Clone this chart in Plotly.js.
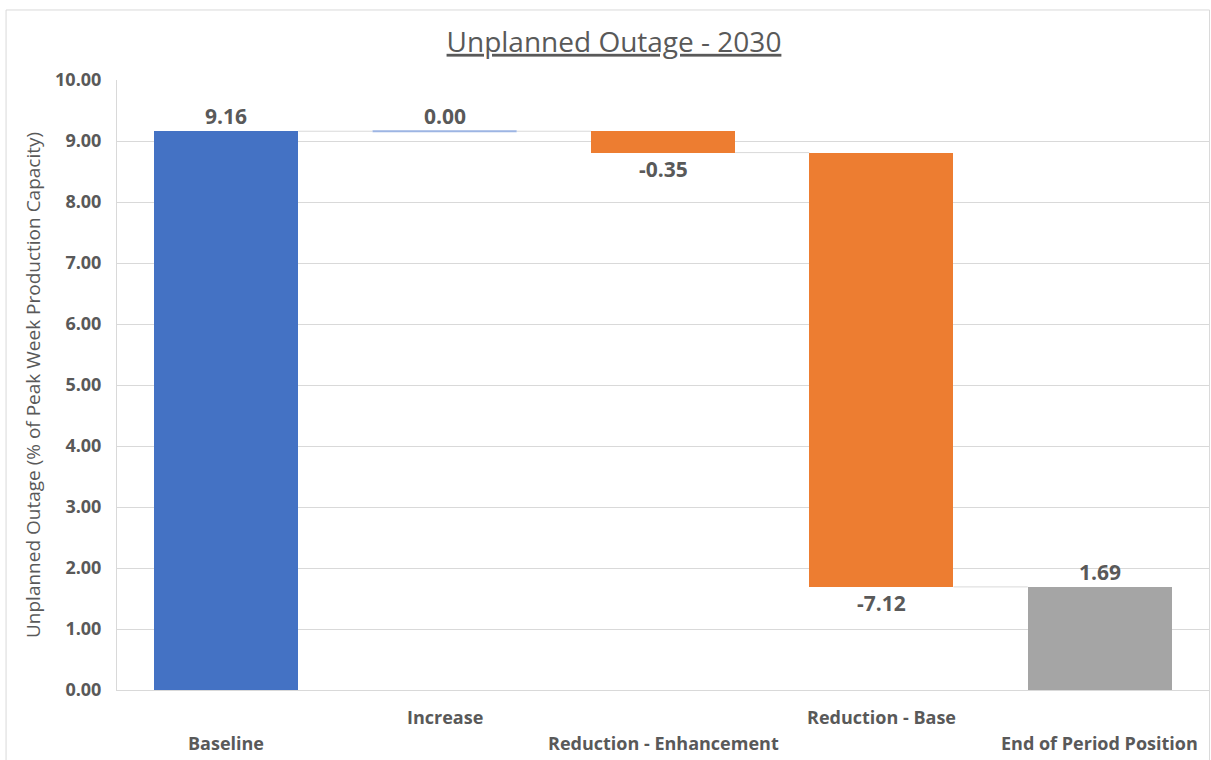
<!DOCTYPE html>
<html><head><meta charset="utf-8">
<script src="https://cdn.plot.ly/plotly-3.0.1.min.js"></script>
<style>html,body{margin:0;padding:0;background:#fff;}#chart{width:1211px;height:760px;}</style>
</head><body><div id="chart"></div>
<script>
const categories = ["Baseline", "Increase", "Reduction - Enhancement", "Reduction - Base", "End of Period Position"];
const values = [9.16, 0.00, -0.35, -7.12, 1.69];
const measures = ["absolute", "relative", "relative", "relative", "total"];
const valueLabels = ["9.16", "0.00", "-0.35", "-7.12", "1.69"];
const yTickVals = [0, 1, 2, 3, 4, 5, 6, 7, 8, 9, 10];
const yTickText = ["0.00", "1.00", "2.00", "3.00", "4.00", "5.00", "6.00", "7.00", "8.00", "9.00", "10.00"];
const labelRow = [1, 0, 1, 0, 1]; // 0 = upper row, 1 = lower row (staggered labels)

const BLUE = "#4472C4", ORANGE = "#ED7D31", GRAY = "#A5A5A5", LIGHTBLUE = "#9DB5E3";
const GRID = "#D9D9D9", TXT = "#595959", FONT = "'Open Sans', Lato, sans-serif";
const BW = 0.66;

let running = 0;
const bases = [], heights = [], colors = [], levels = [];
for (let i = 0; i < values.length; i++) {
  const v = values[i], m = measures[i];
  if (m === "absolute") { bases.push(0); heights.push(v); running = v; colors.push(BLUE); }
  else if (m === "relative") { bases.push(running); heights.push(v); running += v; colors.push(v < 0 ? ORANGE : BLUE); }
  else { bases.push(0); heights.push(v); running = v; colors.push(GRAY); }
  levels.push(running);
}

const xIdx = categories.map((c, i) => i);
const trace = {
  type: "bar", x: xIdx, y: heights, base: bases, width: BW,
  marker: { color: colors, line: { width: 0 } },
  hoverinfo: "skip", showlegend: false
};

const shapes = [];
// connectors
for (let i = 0; i < values.length - 1; i++) {
  shapes.push({ type: "line", xref: "x", yref: "y", x0: i + BW / 2, x1: i + 1 - BW / 2,
    y0: levels[i], y1: levels[i], line: { color: GRID, width: 1 } });
}
// zero-height bars drawn as thin lines
for (let i = 0; i < values.length; i++) {
  if (heights[i] === 0) {
    shapes.push({ type: "line", xref: "x", yref: "y", x0: i - BW / 2, x1: i + BW / 2,
      y0: bases[i], y1: bases[i], line: { color: LIGHTBLUE, width: 2 } });
  }
}
// chart border
shapes.push({ type: "rect", xref: "paper", yref: "paper", x0: -0.1016, x1: 1.0005, y0: -0.2, y1: 1.1148,
  line: { color: GRID, width: 1 }, fillcolor: "rgba(0,0,0,0)" });

const annotations = [];
for (let i = 0; i < values.length; i++) {
  const top = Math.max(bases[i], bases[i] + heights[i]);
  const bottom = Math.min(bases[i], bases[i] + heights[i]);
  const neg = values[i] < 0;
  annotations.push({ xref: "x", yref: "y", x: i, y: neg ? bottom : top,
    yanchor: neg ? "top" : "bottom", yshift: neg ? 0 : -1, showarrow: false,
    text: "<b>" + valueLabels[i] + "</b>", font: { family: FONT, size: 21, color: TXT } });
  annotations.push({ xref: "x", yref: "paper", x: i, y: labelRow[i] ? -0.0869 : -0.0443,
    yanchor: "middle", showarrow: false,
    text: "<b>" + categories[i] + "</b>", font: { family: FONT, size: 18, color: TXT } });
}
annotations.push({ xref: "paper", yref: "paper", x: -0.0769, y: 0.5, xanchor: "center", yanchor: "middle",
  textangle: -90, showarrow: false, text: "Unplanned Outage (% of Peak Week Production Capacity)",
  font: { family: FONT, size: 19, color: TXT } });

const layout = {
  width: 1211, height: 760,
  margin: { l: 117, r: 2, t: 80, b: 70 },
  paper_bgcolor: "#fff", plot_bgcolor: "#fff",
  title: { text: "<u>Unplanned Outage - 2030</u>", font: { family: FONT, size: 28, color: TXT },
    x: 0.507, xanchor: "center", y: 0.9447, yanchor: "middle" },
  xaxis: { type: "linear", range: [-0.5, values.length - 0.5], showticklabels: false, showgrid: false,
    zeroline: false, showline: true, linecolor: GRID, linewidth: 1, fixedrange: true },
  yaxis: { range: [0, 10], tickvals: yTickVals, ticktext: yTickText, showgrid: true, gridcolor: GRID, gridwidth: 1,
    zeroline: false, showline: true, linecolor: GRID, linewidth: 1, ticks: "", ticklabelstandoff: 11,
    tickfont: { family: FONT, size: 18, color: TXT, weight: "bold" }, fixedrange: true },
  shapes: shapes, annotations: annotations, bargap: 0
};

Plotly.newPlot("chart", [trace], layout, { displayModeBar: false, staticPlot: true });
</script>
</body></html>
